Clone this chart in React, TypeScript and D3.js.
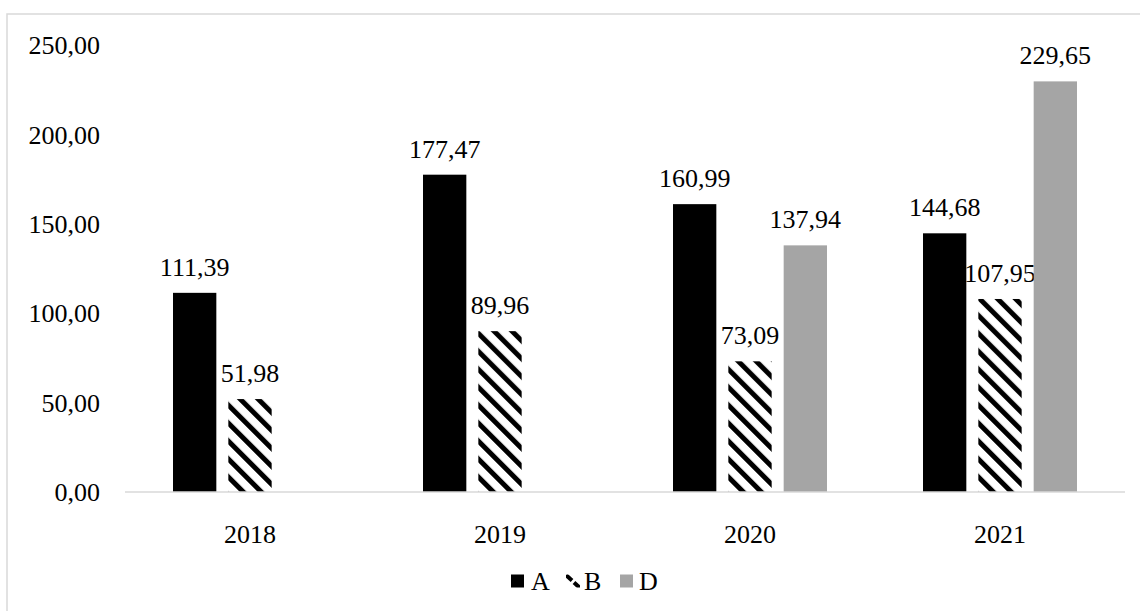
import React from "react";
import * as d3 from "d3";

const years = ["2018", "2019", "2020", "2021"];
const seriesKeys = ["A", "B", "D"];
const valuesA = [111.39, 177.47, 160.99, 144.68];
const valuesB = [51.98, 89.96, 73.09, 107.95];
const valuesD = [null, null, 137.94, 229.65];
const yTicks = [0, 50, 100, 150, 200, 250];

const W = 1140;
const H = 611;
const FONT = "Liberation Serif, Times New Roman, DejaVu Serif, serif";

const seriesValues: Record<string, (number | null)[]> = { A: valuesA, B: valuesB, D: valuesD };
const seriesFill: Record<string, string> = { A: "#000000", B: "url(#hatch)", D: "#a5a5a5" };

const fmt = (v: number) => v.toFixed(2).replace(".", ",");

const textStyle: React.CSSProperties = { fontFamily: FONT, fontSize: "26px" };

export default function App() {
  const x0 = d3.scaleBand<string>().domain(years).range([125, 1125]).padding(0);
  const x1 = d3
    .scaleBand<string>()
    .domain(seriesKeys)
    .range([48, 202])
    .paddingInner(0.217)
    .paddingOuter(0);
  const y = d3.scaleLinear().domain([0, 250]).range([492, 45]);

  const legendItems = [
    { key: "A", x: 511, tx: 531 },
    { key: "B", x: 566, tx: 584 },
    { key: "D", x: 620, tx: 639 },
  ];

  return (
    <svg width={W} height={H} style={{ position: "absolute", left: 0, top: 0, background: "#fff" }}>
      <defs>
        <pattern
          id="hatch"
          patternUnits="userSpaceOnUse"
          width={12.7}
          height={12.7}
          patternTransform="rotate(-45)"
        >
          <rect x={0} y={0} width={12.7} height={12.7} fill="#fff" />
          <rect x={0} y={0} width={5} height={12.7} fill="#000" />
        </pattern>
        <clipPath id="legendClipB">
          <rect x={566} y={574.5} width={14} height={13} />
        </clipPath>
      </defs>
      <rect x={0} y={0} width={W} height={H} fill="#fff" />
      <rect x={7} y={14} width={1300} height={800} fill="none" stroke="#d9d9d9" strokeWidth={1.5} />

      {/* y-axis tick labels */}
      {yTicks.map((t) => (
        <text key={t} x={100} y={y(t)} dy="0.35em" textAnchor="end" style={textStyle} fill="#000">
          {fmt(t)}
        </text>
      ))}

      {/* bars */}
      {years.map((yr, i) => (
        <g key={yr} transform={`translate(${x0(yr)},0)`}>
          {seriesKeys.map((k) => {
            const v = seriesValues[k][i];
            if (v == null) return null;
            const bx = x1(k)!;
            const bw = x1.bandwidth();
            return (
              <g key={k}>
                <rect x={bx} y={y(v)} width={bw} height={y(0) - y(v)} fill={seriesFill[k]} />
                <text
                  x={bx + bw / 2}
                  y={y(v) - 17}
                  textAnchor="middle"
                  style={textStyle}
                  fill="#000"
                >
                  {fmt(v)}
                </text>
              </g>
            );
          })}
        </g>
      ))}

      {/* baseline */}
      <line x1={125} x2={1125} y1={y(0)} y2={y(0)} stroke="#d9d9d9" strokeWidth={1.5} />

      {/* category labels */}
      {years.map((yr) => (
        <text
          key={yr}
          x={x0(yr)! + x0.bandwidth() / 2}
          y={543}
          textAnchor="middle"
          style={textStyle}
          fill="#000"
        >
          {yr}
        </text>
      ))}

      {/* legend */}
      {legendItems.map((it) =>
        it.key === "B" ? (
          <g key={it.key} clipPath="url(#legendClipB)">
            <line x1={566} y1={575} x2={572} y2={580.5} stroke="#000" strokeWidth={4} />
            <line x1={574} y1={582.5} x2={581} y2={589} stroke="#000" strokeWidth={4} />
          </g>
        ) : (
          <rect key={it.key} x={it.x} y={574.5} width={13} height={13} fill={seriesFill[it.key]} />
        )
      )}
      {legendItems.map((it) => (
        <text key={"t" + it.key} x={it.tx} y={590} style={textStyle} fill="#000">
          {it.key}
        </text>
      ))}
    </svg>
  );
}
